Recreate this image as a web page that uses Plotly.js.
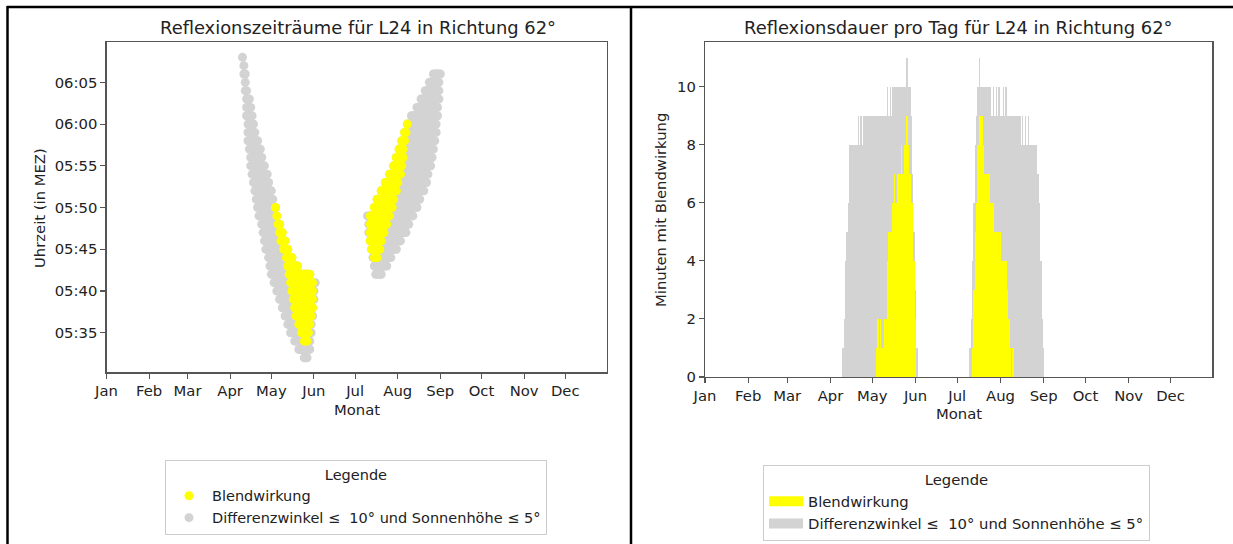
<!DOCTYPE html>
<html>
<head>
<meta charset="utf-8">
<script src="https://cdn.plot.ly/plotly-3.0.1.min.js"></script>
<style>
  html, body { margin: 0; padding: 0; background: #ffffff; }
  #chart { width: 1233px; height: 544px; }
</style>
</head>
<body>
<div id="chart"></div>
<script>
// ---------------- data ----------------
const monthLabels = ['Jan','Feb','Mar','Apr','May','Jun','Jul','Aug','Sep','Oct','Nov','Dec'];
const timeTickLabels = ['05:35','05:40','05:45','05:50','05:55','06:00','06:05'];
const countTickValues = [0, 2, 4, 6, 8, 10];

const nameGlare = 'Blendwirkung';
const nameAngle = 'Differenzwinkel ≤\u00a0 10° und Sonnenhöhe ≤ 5°';

// Left panel: per day, earliest and latest reflection minute (minutes after midnight, MEZ)
const springStart = '2023-04-10';
const springGrayLow  = [368,366,364,361,358,357,355,354,353,352,351,350,349,349,348,347,346,345,345,344,343,342,342,341,341,340,340,339,339,338,338,337,337,336,336,335,335,335,334,334,334,333,333,333,333,332,332,332,333,333,335,337,339,341];
const springGrayHigh = [368,367,366,364,363,363,362,361,360,359,358,358,357,357,356,355,355,354,354,353,352,352,351,350,350,349,348,348,347,347,346,346,345,345,344,344,344,343,343,343,343,342,342,342,342,342,342,342,342,342,341,341,341,341];
const springYellowStart = '2023-05-04';
const springYellowLow  = [350,349,348,347,346,346,345,345,344,343,342,341,340,339,338,337,337,336,336,335,335,334,334,334,335,336,337,338];
const springYellowHigh = [350,349,348,348,347,347,346,346,345,345,344,344,344,343,343,343,343,342,342,342,342,342,342,342,342,342,341,341];

const summerStart = '2023-07-10';
const summerGrayLow  = [349,347,346,345,344,343,342,342,342,342,342,343,343,343,343,344,344,344,345,345,345,345,346,346,346,347,347,347,347,348,348,349,349,349,350,350,350,351,351,352,352,352,353,353,354,355,355,356,357,358,359,361,363,366];
const summerGrayHigh = [349,349,349,349,349,350,350,351,351,351,352,352,352,353,353,353,354,354,354,355,355,356,356,357,357,358,358,359,359,360,360,360,361,361,361,361,362,362,362,363,363,363,364,364,364,365,365,365,366,366,366,366,366,366];
const summerYellowStart = '2023-07-12';
const summerYellowLow  = [346,345,345,344,344,344,345,345,346,347,347,348,348,349,349,350,350,351,352,352,353,354,354,355,356,358,359,360];
const summerYellowHigh = [349,349,349,350,350,351,351,351,352,352,352,353,353,353,354,354,354,355,355,356,356,357,357,358,358,359,359,360];

// Right panel: minutes per day
const springGrayCount   = [1,2,4,5,6,8,8,8,8,8,8, 9,8,9,8,9, 9,9,9,9,9,9,9,9,9,9,9,9,9,9,9,9, 10,9,10,9, 10,10,10,10,10,10,10,10,10,10, 11,10,10,9,7,5,3,1];
const springYellowCount = [1,2,1,2,1,1,2,2,4,5,5,5,6,7,6,7,7,7,8,7,8,8,9,8,7,6,6,4,2];
const summerGrayCount   = [1,2,4,6,8,9,10,11, 10,10,10,10,10,10,10,10, 9,10,9,10,9,10,9,9,10,9,10, 9,9,9,9,9,9,9,9,9, 9,8,9,8,9,8,9, 8,8,8,8,8,8, 7,6,4,2,1];
const summerYellowCount = [1,3,5,6,8,9,9,9,8,7,7,7,7,6,6,6,5,5,5,5,5,4,4,4,4,3,2,1,0,1];

// ---------------- helpers ----------------
function addDays(iso, n) {
  const p = iso.split('-').map(Number);
  const d = new Date(Date.UTC(p[0], p[1] - 1, p[2] + n));
  return d.toISOString().slice(0, 10);
}
function minutesOf(label) { const p = label.split(':').map(Number); return p[0] * 60 + p[1]; }
function columnPoints(start, low, high, out) {
  low.forEach((lo, i) => {
    const day = addDays(start, i);
    for (let m = lo; m <= high[i]; m++) { out.x.push(day); out.y.push(m); }
  });
  return out;
}
function dayBars(start, counts, out) {
  counts.forEach((c, i) => { out.x.push(addDays(start, i)); out.y.push(c); });
  return out;
}

const grayPts = {x: [], y: []};
columnPoints(springStart, springGrayLow, springGrayHigh, grayPts);
columnPoints(summerStart, summerGrayLow, summerGrayHigh, grayPts);
const yellowPts = {x: [], y: []};
columnPoints(springYellowStart, springYellowLow, springYellowHigh, yellowPts);
columnPoints(summerYellowStart, summerYellowLow, summerYellowHigh, yellowPts);

const grayBars = {x: [], y: []};
dayBars(springStart, springGrayCount, grayBars);
dayBars(summerStart, summerGrayCount, grayBars);
const yellowBars = {x: [], y: []};
dayBars(springYellowStart, springYellowCount, yellowBars);
dayBars(summerYellowStart, summerYellowCount, yellowBars);

const monthStarts = monthLabels.map((m, i) => '2023-' + String(i + 1).padStart(2, '0') + '-01');
const timeTickValues = timeTickLabels.map(minutesOf);

// ---------------- style ----------------
const FONT = 'DejaVu Sans, Verdana, sans-serif';
const TXT = '#222222';
const GRAY = '#d3d3d3';
const YELLOW = '#ffff00';
const W = 1233, H = 544;
const px = v => v / W;
const py = v => 1 - v / H;

const axisBase = {
  showline: true, mirror: true, linecolor: '#555', linewidth: 1.2,
  ticks: 'outside', ticklen: 5, tickwidth: 1.1, tickcolor: '#555',
  showgrid: false, zeroline: false, fixedrange: true,
  tickfont: {family: FONT, size: 14.8, color: TXT}
};

const traces = [
  {type: 'scatter', mode: 'markers', x: grayPts.x, y: grayPts.y, xaxis: 'x', yaxis: 'y',
   marker: {size: 9, color: GRAY, line: {width: 0}}, name: nameAngle, legend: 'legend', legendrank: 2, hoverinfo: 'skip'},
  {type: 'scatter', mode: 'markers', x: yellowPts.x, y: yellowPts.y, xaxis: 'x', yaxis: 'y',
   marker: {size: 9, color: YELLOW, line: {width: 0}}, name: nameGlare, legend: 'legend', legendrank: 1, hoverinfo: 'skip'},
  {type: 'bar', x: grayBars.x, y: grayBars.y, xaxis: 'x2', yaxis: 'y2', width: 86400000,
   marker: {color: GRAY, line: {width: 0}}, showlegend: false, hoverinfo: 'skip'},
  {type: 'bar', x: yellowBars.x, y: yellowBars.y, xaxis: 'x2', yaxis: 'y2', width: 86400000,
   marker: {color: YELLOW, line: {width: 0}}, showlegend: false, hoverinfo: 'skip'},
  {type: 'scatter', mode: 'lines', x: [null], y: [null], xaxis: 'x2', yaxis: 'y2',
   line: {color: YELLOW, width: 10}, name: nameGlare, legend: 'legend2', legendrank: 1, hoverinfo: 'skip'},
  {type: 'scatter', mode: 'lines', x: [null], y: [null], xaxis: 'x2', yaxis: 'y2',
   line: {color: GRAY, width: 10}, name: nameAngle, legend: 'legend2', legendrank: 2, hoverinfo: 'skip'}
];

function legendCfg(x, y, size, itemwidth) {
  return {
    x: x, y: y, xanchor: 'left', yanchor: 'top', bgcolor: '#ffffff', bordercolor: '#cccccc', borderwidth: 1,
    itemwidth: itemwidth,
    font: {family: FONT, size: size, color: TXT},
    title: {text: 'Legende', side: 'top center', font: {family: FONT, size: size, color: TXT}}
  };
}

function ann(text, x, y, size, angle) {
  return {text: text, x: x, y: y, xref: 'paper', yref: 'paper', showarrow: false,
          xanchor: 'center', yanchor: 'middle', textangle: angle || 0,
          font: {family: FONT, size: size, color: TXT}};
}

const layout = {
  width: W, height: H, margin: {l: 0, r: 0, t: 0, b: 0},
  paper_bgcolor: '#ffffff', plot_bgcolor: '#ffffff',
  font: {family: FONT, size: 14.5, color: TXT},
  hovermode: false, barmode: 'overlay', bargap: 0,
  xaxis: Object.assign({}, axisBase, {type: 'date', domain: [px(106.5), px(606.5)], anchor: 'y',
    range: ['2023-01-01', '2023-12-31'], tickvals: monthStarts, ticktext: monthLabels}),
  yaxis: Object.assign({}, axisBase, {domain: [py(372.3), py(41.7)], anchor: 'x',
    range: [330.26, 369.87], tickvals: timeTickValues, ticktext: timeTickLabels}),
  xaxis2: Object.assign({}, axisBase, {type: 'date', domain: [px(705), px(1212.3)], anchor: 'y2',
    range: ['2023-01-01', '2023-12-31'], tickvals: monthStarts, ticktext: monthLabels}),
  yaxis2: Object.assign({}, axisBase, {domain: [py(377), py(41.7)], anchor: 'x2',
    range: [0, 11.55], tickvals: countTickValues}),
  legend: legendCfg(px(165), py(460), 14.5, 36),
  legend2: legendCfg(px(763), py(465), 14.8, 34),
  annotations: [
    ann('Reflexionszeiträume für L24 in Richtung 62°', px(357.5), py(27), 17.9),
    ann('Reflexionsdauer pro Tag für L24 in Richtung 62°', px(958.6), py(27), 17.9),
    ann('Monat', px(356.5), py(409), 14.8),
    ann('Monat', px(958.6), py(413), 14.8),
    ann('Uhrzeit (in MEZ)', px(39), py(208), 14.8, -90),
    ann('Minuten mit Blendwirkung', px(661), py(210), 14.8, -90)
  ],
  shapes: [
    {type: 'line', xref: 'paper', yref: 'paper', x0: px(7), x1: 1, y0: py(7), y1: py(7), line: {color: '#000', width: 2.5}},
    {type: 'line', xref: 'paper', yref: 'paper', x0: px(7.5), x1: px(7.5), y0: 0, y1: py(6), line: {color: '#000', width: 2.5}},
    {type: 'line', xref: 'paper', yref: 'paper', x0: px(631), x1: px(631), y0: 0, y1: py(6), line: {color: '#000', width: 2.5}}
  ]
};

Plotly.newPlot('chart', traces, layout, {staticPlot: true, displayModeBar: false});
</script>
</body>
</html>
